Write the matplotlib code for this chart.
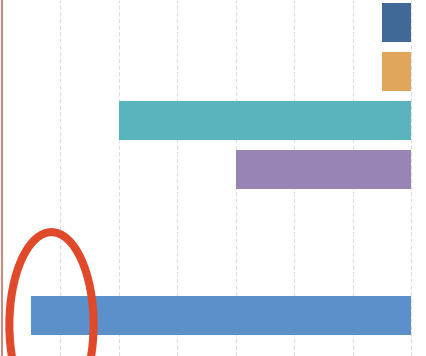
import matplotlib
matplotlib.use("Agg")
import matplotlib.pyplot as plt
from matplotlib.patches import Ellipse

# one bar per row, top to bottom; two rows are empty
categories = ["A", "B", "C", "D", "E", "F", "G"]
values = [0.5, 0.5, 5.0, 3.0, 0, 0, 6.5]
colors = ["#416997", "#e0a75a", "#5ab4bd", "#9884b5", "#ffffff", "#ffffff", "#5b90ca"]
grid_ticks = [0, 1, 2, 3, 4, 5, 6]

fig = plt.figure(figsize=(4.27, 3.56), dpi=100)
ax = fig.add_axes([0, 0, 1, 1])

ypos = list(range(len(categories)))
ax.barh(ypos, values, height=0.8, color=colors, zorder=2)

# very light dashed grid behind the bars
for t in grid_ticks:
    ax.axvline(t, color="#dedede", lw=0.8, ls=(0, (4, 2)), zorder=1)
# red axis line on the far left
ax.axvline(7, color="#c98a80", lw=1.5, zorder=3)

# x runs right to left, rows from top down
ax.set_xlim(7.03, -0.27)
ax.set_ylim(6.83, -0.47)

# red ring drawn around the end of the last bar
ring = Ellipse((6.15, 6.19), width=1.44, height=3.8, fill=False,
               edgecolor="#e04a2a", lw=5.8, zorder=4)
ax.add_patch(ring)

for s in ax.spines.values():
    s.set_visible(False)
ax.set_xticks([])
ax.set_yticks([])

fig.savefig("out.png", dpi=100, facecolor="white")
